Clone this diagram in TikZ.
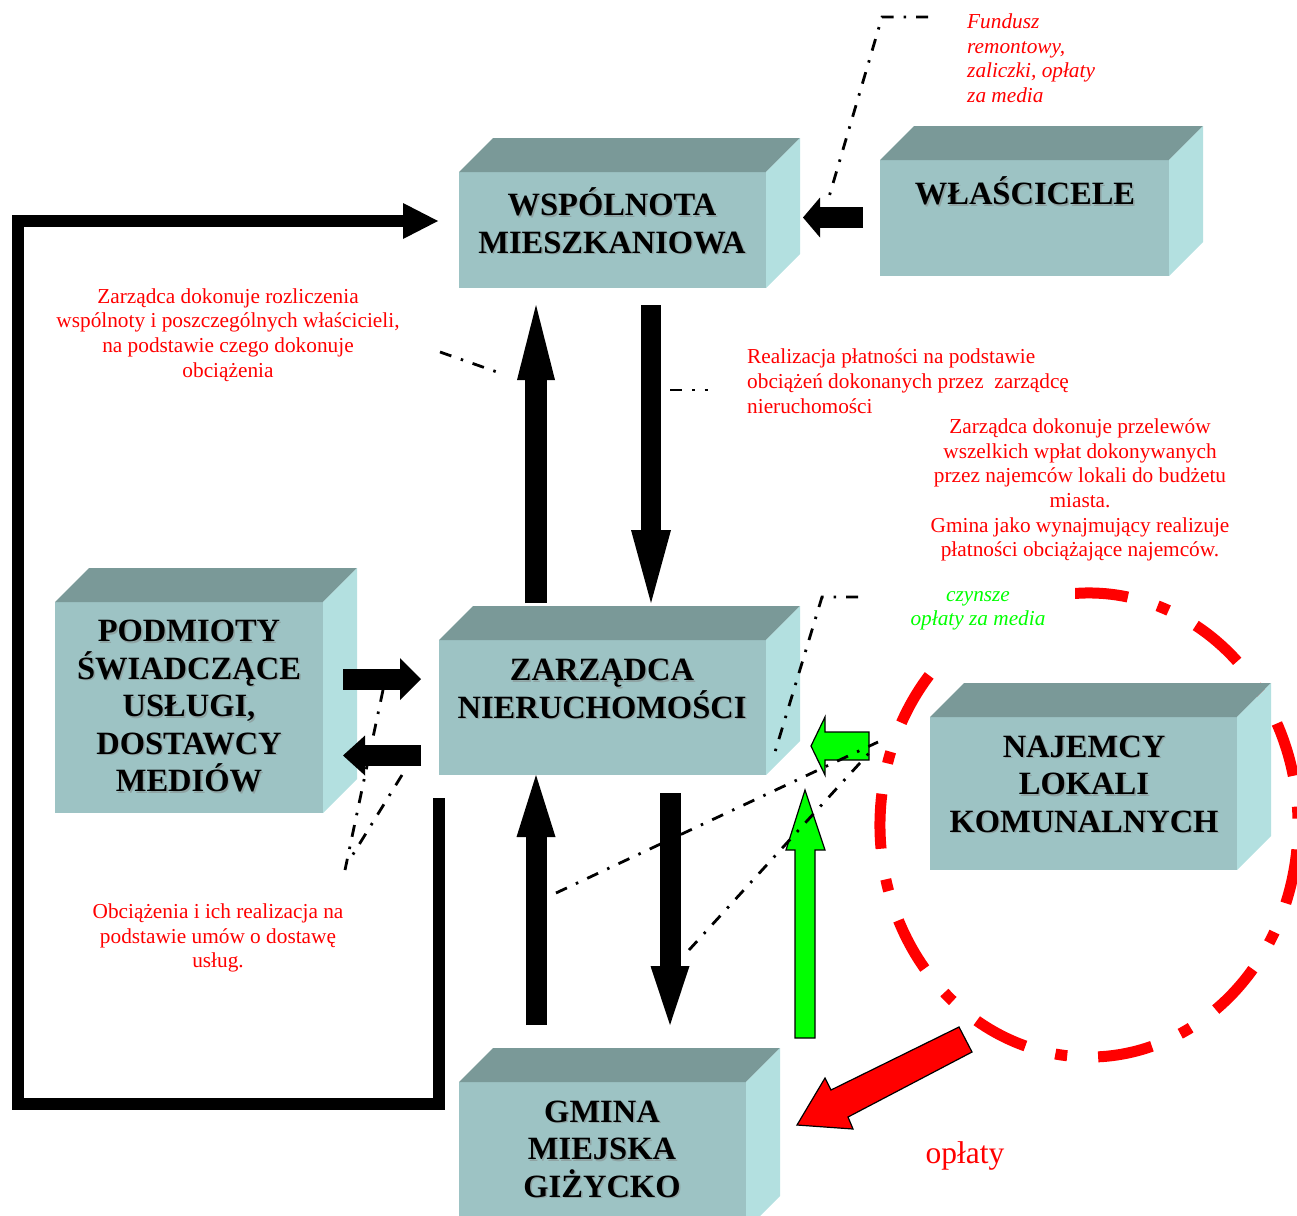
\documentclass[tikz,border=0pt]{standalone}
\usepackage{fontspec}
\setmainfont{Liberation Serif}
\usetikzlibrary{arrows.meta}
\definecolor{frontc}{HTML}{9DC3C4}
\definecolor{topc}{HTML}{7A9998}
\definecolor{sidec}{HTML}{B3E0E0}
\definecolor{grn}{HTML}{00FF00}
\definecolor{shadowc}{HTML}{8FA3A3}
\newcommand\mycube[5]{%
  \node[frontface, minimum width=#4pt, minimum height=#5pt] (#1) at (#2,#3) {};
  \fill[topc] (#1.north west) -- ++(34,-34) -- ([shift={(34,-34)}]#1.north east) -- (#1.north east) -- cycle;
  \fill[sidec] (#1.north east) -- ++(34,-34) -- ([shift={(34,-34)}]#1.south east) -- (#1.south east) -- cycle;
}
\newcommand\mylabel[4]{%
  \node[boxtxt, text=shadowc] (#1S) at (#2+1.5,#3+1.5) {#4};
  \node[boxtxt] (#1) at (#2,#3) {#4};
}
\begin{document}
\begin{tikzpicture}[x=1pt,y=-1pt,
  frontface/.style={fill=frontc, draw=none, inner sep=0pt, outer sep=0pt},
  boxtxt/.style={font=\fontsize{32.5}{37.5}\selectfont\bfseries, align=center, inner sep=0pt, text=black},
  redtxt/.style={font=\fontsize{21.3}{24.7}\selectfont, align=center, inner sep=0pt, text=red},
  dd/.style={line width=2.8pt, dash pattern=on 12pt off 10pt on 2.5pt off 10pt},
  blk/.style={line width=#1, draw=black},
]
\useasboundingbox (0,0) rectangle (1297,1215);

% red dash-dot ellipse
\draw[red, line width=11pt, dash pattern=on 55pt off 31pt on 12pt off 31pt, dash phase=53pt]
  (1089,825) ++(-115:209 and 232) arc[start angle=-115, end angle=245, x radius=209, y radius=232];

% white patch under the green labels
\fill[white] (881,585) rectangle (1075,663);

% boxes
\mycube{wsp}{612.5}{230}{307}{116}
\mycube{wla}{1024.5}{218}{289}{116}
\mycube{zar}{602.5}{707.5}{327}{135}
\mycube{pod}{189}{707.5}{268}{211}
\mycube{naj}{1083.5}{793.5}{307}{153}
\mycube{gmi}{602.5}{1156}{287}{148}

\mylabel{wspT}{612}{221}{WSPÓLNOTA\\MIESZKANIOWA}
\mylabel{wlaT}{1025}{191}{WŁAŚCICELE}
\mylabel{zarT}{602}{689}{ZARZĄDCA\\NIERUCHOMOŚCI}
\mylabel{podT}{189}{706}{PODMIOTY\\ŚWIADCZĄCE\\USŁUGI,\\DOSTAWCY\\MEDIÓW}
\mylabel{najT}{1084}{784}{NAJEMCY\\LOKALI\\KOMUNALNYCH}
\mylabel{gmiT}{602}{1149}{GMINA\\MIEJSKA\\GIŻYCKO}

% green arrows
\filldraw[fill=grn, draw=black, line width=1.2pt]
  (795,1038) -- (795,850) -- (786,850) -- (805,790) -- (825,850) -- (815,850) -- (815,1038) -- cycle;
\filldraw[fill=grn, draw=black, line width=1.2pt]
  (869,732) -- (825,732) -- (825,717) -- (811,746) -- (825,775) -- (825,760) -- (869,760) -- cycle;

% dash-dot leader lines
\coordinate (l1a) at (928,17); \coordinate (l1b) at (882,17); \coordinate (l1c) at (829,197);
\coordinate (l2a) at (440,352); \coordinate (l2b) at (497,372);
\coordinate (l3a) at (670,390); \coordinate (l3b) at (708,390);
\coordinate (l4a) at (858,597); \coordinate (l4b) at (822,597); \coordinate (l4c) at (775,752);
\coordinate (l5a) at (383,690); \coordinate (l5b) at (345,870);
\coordinate (l6a) at (402,775); \coordinate (l6b) at (352,856);
\coordinate (l7a) at (556,893); \coordinate (l7b) at (878,742);
\coordinate (l8a) at (689,950); \coordinate (l8b) at (870,752);
\draw[dd] (l1a) -- (l1b) -- (l1c);
\draw[dd] (l2a) -- (l2b);
\draw[dd] (l3a) -- (l3b);
\draw[dd] (l4a) -- (l4b) -- (l4c);
\draw[dd] (l5a) -- (l5b);
\draw[dd] (l6a) -- (l6b);
\draw[dd] (l7a) -- (l7b);
\draw[dd] (l8a) -- (l8b);

% black block arrows
\coordinate (a1s) at (536,603); \coordinate (a1e) at (536,305);
\coordinate (a2s) at (651,305); \coordinate (a2e) at (651,603);
\coordinate (a3s) at (536,1025); \coordinate (a3e) at (536,775);
\coordinate (a4s) at (670,793); \coordinate (a4e) at (670,1025);
\coordinate (a5s) at (343,679); \coordinate (a5e) at (421,679);
\coordinate (a6s) at (421,755.5); \coordinate (a6e) at (343,755.5);
\coordinate (a7s) at (863,217.5); \coordinate (a7e) at (803,217.5);
\draw[blk=22pt, -{Triangle[width=38pt,length=75pt,line width=0pt]}] (a1s) -- (a1e);
\draw[blk=20pt, -{Triangle[width=40pt,length=73pt,line width=0pt]}] (a2s) -- (a2e);
\draw[blk=21pt, -{Triangle[width=39pt,length=62pt,line width=0pt]}] (a3s) -- (a3e);
\draw[blk=21pt, -{Triangle[width=39pt,length=59pt,line width=0pt]}] (a4s) -- (a4e);
\draw[blk=21pt, -{Triangle[width=42pt,length=21pt,line width=0pt]}] (a5s) -- (a5e);
\draw[blk=21pt, -{Triangle[width=40pt,length=22pt,line width=0pt]}] (a6s) -- (a6e);
\draw[blk=21pt, -{Triangle[width=40pt,length=17pt,line width=0pt]}] (a7s) -- (a7e);

% loop line
\coordinate (lp1) at (439,798); \coordinate (lp2) at (439,1104);
\coordinate (lp3) at (17.5,1104); \coordinate (lp4) at (17.5,221);
\coordinate (lp5) at (438,221);
\draw[blk=12pt, line join=miter, -{Triangle[width=36pt,length=35pt,line width=0pt]}]
  (lp1) -- (lp2) -- (lp3) -- (lp4) -- (lp5);

% red arrow
\filldraw[fill=red, draw=black, line width=1.2pt]
  (797,1125) -- (825,1078) -- (831,1090) -- (959,1027) -- (972,1052) -- (848,1117) -- (853,1129) -- cycle;

% texts
\node[redtxt, font=\fontsize{21.3}{24.5}\selectfont\itshape, align=left, anchor=west] (fund) at (967,58)
  {Fundusz\\remontowy,\\zaliczki, opłaty\\za media};
\node[redtxt] (t1) at (228,335)
  {Zarządca dokonuje rozliczenia\\wspólnoty i poszczególnych właścicieli,\\na podstawie czego dokonuje\\obciążenia};
\node[redtxt, align=left, anchor=west] (t2) at (747,381)
  {Realizacja płatności na podstawie\\obciążeń dokonanych przez\ \ zarządcę\\nieruchomości};
\node[redtxt] (t3) at (1080,490)
  {Zarządca dokonuje przelewów\\wszelkich wpłat dokonywanych\\przez najemców lokali do budżetu\\miasta.\\Gmina jako wynajmujący realizuje\\płatności obciążające najemców.};
\node[redtxt, text=grn, font=\fontsize{21.3}{24.5}\selectfont\itshape] (t4) at (978,611)
  {czynsze\\opłaty za media};
\node[redtxt] (t5) at (218,938)
  {Obciążenia i ich realizacja na\\podstawie umów o dostawę\\usług.};
\node[redtxt, font=\fontsize{31.5}{34}\selectfont] (t6) at (965,1156) {opłaty};
\end{tikzpicture}
\end{document}
